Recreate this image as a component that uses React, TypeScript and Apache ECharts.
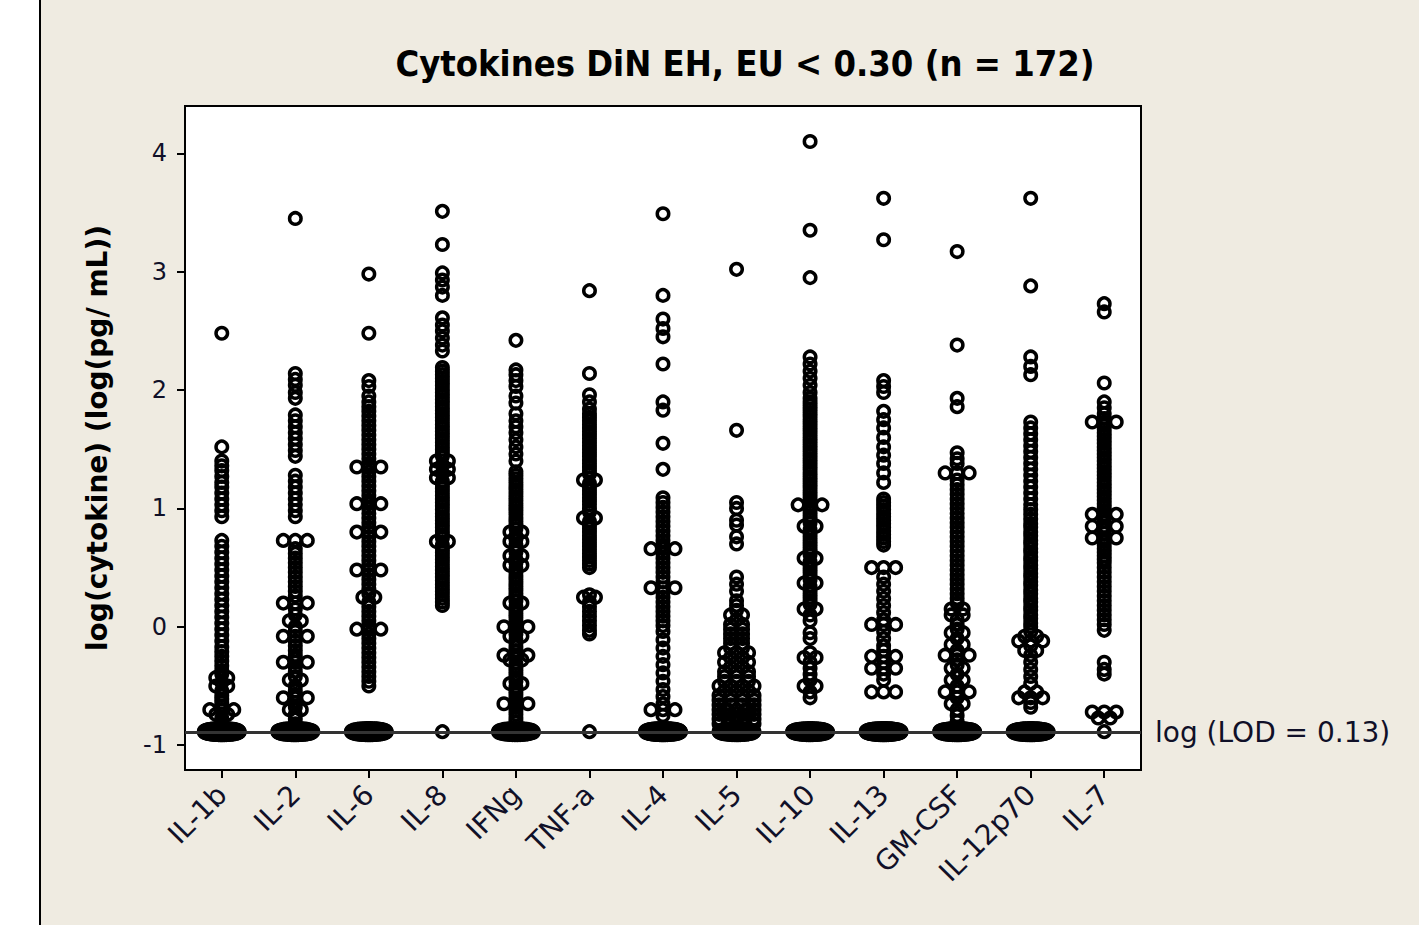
import React, { useEffect, useRef } from "react";
import * as echarts from "echarts";

const categories = ["IL-1b", "IL-2", "IL-6", "IL-8", "IFNg", "TNF-a", "IL-4", "IL-5", "IL-10", "IL-13", "GM-CSF", "IL-12p70", "IL-7"];

const il1b = [2.48, 1.52, 1.4, 1.36, 1.32, 1.27, 1.22, 1.18, 1.13, 1.08, 1.03, 0.98, 0.93,
  0.73, 0.68, 0.63, 0.58, 0.53, 0.48, 0.43, 0.38, 0.33, 0.28, 0.23, 0.18, 0.13, 0.08, 0.03, -0.02, -0.07, -0.12, -0.17, -0.21, -0.25, -0.29, -0.33, -0.37, -0.4,
  -0.43, -0.43, -0.47, -0.5, -0.5, -0.54, -0.58, -0.61, -0.64, -0.67, -0.7, -0.7, -0.7, -0.74, -0.74, -0.77, -0.8, -0.83];
const il2 = [3.45, 2.14, 2.09, 2.04, 1.98, 1.93, 1.79, 1.74, 1.69, 1.64, 1.59, 1.54, 1.49, 1.44,
  1.28, 1.23, 1.18, 1.13, 1.08, 1.03, 0.98, 0.93, 0.73, 0.73, 0.73, 0.66, 0.62, 0.58, 0.54, 0.5, 0.46, 0.42, 0.38, 0.34, 0.3, 0.26,
  0.2, 0.2, 0.2, 0.15, 0.1, 0.05, 0.05, 0.0, -0.04, -0.08, -0.08, -0.08, -0.12, -0.16, -0.2, -0.24, -0.27, -0.3, -0.3, -0.3, -0.34, -0.38, -0.42,
  -0.45, -0.45, -0.5, -0.54, -0.57, -0.6, -0.6, -0.6, -0.64, -0.68, -0.7, -0.7, -0.74, -0.78, -0.82];
const il6 = [2.98, 2.48, 2.08, 2.03, 1.95, 1.9, 1.86, 1.82, 1.78, 1.74, 1.7, 1.66, 1.62, 1.58, 1.54, 1.5, 1.46, 1.42, 1.38, 1.35, 1.35,
  1.35, 1.31, 1.27, 1.23, 1.19, 1.15, 1.11, 1.07, 1.04, 1.04, 1.04, 1.0, 0.96, 0.92, 0.88, 0.84, 0.8, 0.8, 0.8, 0.76, 0.72, 0.68, 0.64,
  0.6, 0.56, 0.52, 0.48, 0.48, 0.48, 0.44, 0.4, 0.36, 0.32, 0.28, 0.25, 0.25, 0.21, 0.17, 0.13, 0.09, 0.05, 0.01, -0.02, -0.02, -0.02,
  -0.06, -0.1, -0.14, -0.18, -0.22, -0.26, -0.3, -0.34, -0.38, -0.42, -0.46, -0.5];
const il8 = [3.51, 3.23, 2.99, 2.93, 2.87, 2.8, 2.61, 2.55, 2.5, 2.44, 2.38, 2.33,
  2.19, 2.16, 2.13, 2.1, 2.07, 2.04, 2.01, 1.98, 1.95, 1.92, 1.89, 1.86, 1.83, 1.8, 1.77, 1.74, 1.71, 1.68, 1.65, 1.62, 1.59, 1.56, 1.53,
  1.5, 1.47, 1.44, 1.4, 1.4, 1.37, 1.33, 1.33, 1.3, 1.26, 1.26, 1.23, 1.2, 1.17, 1.14, 1.11, 1.08, 1.05, 1.02, 0.99, 0.96, 0.93, 0.9,
  0.87, 0.84, 0.81, 0.78, 0.75, 0.72, 0.72, 0.69, 0.66, 0.63, 0.6, 0.57, 0.54, 0.51, 0.48, 0.45, 0.42, 0.39, 0.36, 0.33, 0.3, 0.27,
  0.24, 0.21, 0.18];
const ifng = [2.42, 2.17, 2.13, 2.08, 2.03, 1.95, 1.89, 1.8, 1.74, 1.69, 1.64, 1.58, 1.52, 1.46, 1.4, 1.31, 1.28, 1.25, 1.22, 1.19,
  1.16, 1.13, 1.1, 1.07, 1.04, 1.01, 0.98, 0.95, 0.92, 0.89, 0.86, 0.83, 0.8, 0.8, 0.77, 0.74, 0.72, 0.72, 0.69, 0.66, 0.63, 0.6, 0.6,
  0.57, 0.54, 0.52, 0.52, 0.49, 0.46, 0.43, 0.4, 0.37, 0.34, 0.31, 0.28, 0.25, 0.22, 0.2, 0.2, 0.17, 0.14, 0.11, 0.08, 0.05, 0.02, 0.0,
  0.0, 0.0, -0.03, -0.06, -0.08, -0.08, -0.11, -0.14, -0.17, -0.2, -0.24, -0.24, -0.24, -0.28, -0.28, -0.31, -0.34, -0.37, -0.4, -0.43,
  -0.46, -0.48, -0.48, -0.51, -0.54, -0.57, -0.6, -0.62, -0.65, -0.65, -0.65, -0.68, -0.71, -0.74, -0.77, -0.8];
const tnfa = [2.84, 2.14, 1.96, 1.9, 1.84, 1.8, 1.77, 1.74, 1.71, 1.68, 1.65, 1.62, 1.59, 1.56, 1.53, 1.5, 1.47, 1.44, 1.41, 1.38,
  1.35, 1.32, 1.29, 1.24, 1.24, 1.21, 1.18, 1.15, 1.12, 1.09, 1.06, 1.03, 1.0, 0.97, 0.92, 0.92, 0.89, 0.86, 0.83, 0.8, 0.77, 0.74,
  0.71, 0.68, 0.65, 0.62, 0.59, 0.56, 0.53, 0.5, 0.27, 0.25, 0.25, 0.21, 0.17, 0.13, 0.09, 0.05, 0.01, -0.03, -0.06];
const il4 = [3.49, 2.8, 2.6, 2.52, 2.45, 2.22, 1.9, 1.83, 1.55, 1.33, 1.09, 1.05, 1.01, 0.97, 0.93, 0.89, 0.85, 0.81, 0.77, 0.73,
  0.69, 0.66, 0.66, 0.66, 0.62, 0.58, 0.54, 0.5, 0.46, 0.42, 0.38, 0.33, 0.33, 0.33, 0.29, 0.25, 0.21, 0.17, 0.13, 0.09, 0.05, 0.01,
  -0.04, -0.11, -0.18, -0.25, -0.32, -0.39, -0.46, -0.53, -0.59, -0.65, -0.7, -0.7, -0.7, -0.75];
const il5 = [3.02, 1.66, 1.05, 1.0, 0.9, 0.86, 0.76, 0.7, 0.42, 0.36, 0.3, 0.22, 0.18, 0.14, 0.1, 0.1, 0.06, 0.02, 0.02, -0.02, -0.02,
  -0.06, -0.06, -0.1, -0.1, -0.14, -0.14, -0.18, -0.18, -0.22, -0.22, -0.22, -0.26, -0.26, -0.3, -0.3, -0.3, -0.34, -0.34, -0.38,
  -0.38, -0.38, -0.42, -0.42, -0.42, -0.46, -0.46, -0.46, -0.5, -0.5, -0.5, -0.5, -0.54, -0.54, -0.54, -0.58, -0.58, -0.58, -0.58,
  -0.62, -0.62, -0.62, -0.62, -0.66, -0.66, -0.66, -0.66, -0.7, -0.7, -0.7, -0.7, -0.7, -0.74, -0.74, -0.74, -0.74, -0.78, -0.78,
  -0.78, -0.78, -0.78, -0.82, -0.82, -0.82, -0.82];
const il10 = [4.1, 3.35, 2.95, 2.28, 2.22, 2.16, 2.1, 2.04, 1.98, 1.93, 1.9, 1.87, 1.84, 1.81, 1.78, 1.75, 1.72, 1.69, 1.66, 1.63,
  1.6, 1.57, 1.54, 1.51, 1.48, 1.45, 1.42, 1.39, 1.36, 1.33, 1.3, 1.27, 1.24, 1.21, 1.18, 1.15, 1.12, 1.09, 1.06, 1.03, 1.03, 1.03,
  1.0, 0.97, 0.94, 0.91, 0.88, 0.85, 0.85, 0.82, 0.79, 0.76, 0.73, 0.7, 0.67, 0.64, 0.61, 0.58, 0.58, 0.55, 0.52, 0.49, 0.46, 0.43,
  0.4, 0.37, 0.37, 0.34, 0.31, 0.28, 0.25, 0.22, 0.19, 0.15, 0.15, 0.1, 0.05, -0.05, -0.1, -0.22, -0.26, -0.26, -0.3, -0.35, -0.4,
  -0.45, -0.5, -0.5, -0.55, -0.6];
const il13 = [3.62, 3.27, 2.08, 2.03, 1.98, 1.82, 1.75, 1.68, 1.6, 1.52, 1.45, 1.38, 1.3, 1.22, 1.08, 1.05, 1.02, 0.99, 0.96, 0.93,
  0.9, 0.87, 0.84, 0.81, 0.78, 0.75, 0.72, 0.69, 0.5, 0.5, 0.5, 0.42, 0.36, 0.3, 0.24, 0.18, 0.12, 0.06, 0.02, 0.02, 0.02, -0.04, -0.1,
  -0.16, -0.2, -0.25, -0.25, -0.25, -0.3, -0.35, -0.35, -0.35, -0.4, -0.45, -0.55, -0.55, -0.55];
const gmcsf = [3.17, 2.38, 1.93, 1.86, 1.47, 1.42, 1.38, 1.3, 1.3, 1.3, 1.24, 1.2, 1.16, 1.12, 1.08, 1.04, 1.0, 0.96, 0.92, 0.88, 0.84,
  0.8, 0.76, 0.72, 0.68, 0.64, 0.6, 0.56, 0.52, 0.48, 0.44, 0.4, 0.36, 0.32, 0.28, 0.24, 0.2, 0.15, 0.15, 0.1, 0.1, 0.06, 0.02, -0.02,
  -0.05, -0.05, -0.1, -0.15, -0.15, -0.2, -0.24, -0.24, -0.24, -0.28, -0.32, -0.35, -0.35, -0.4, -0.45, -0.45, -0.5, -0.55, -0.55,
  -0.55, -0.6, -0.65, -0.65, -0.7, -0.75, -0.8];
const il12p70 = [3.62, 2.88, 2.28, 2.2, 2.13, 1.73, 1.68, 1.63, 1.58, 1.53, 1.48, 1.43, 1.38, 1.33, 1.28, 1.23, 1.18, 1.13, 1.08, 1.03,
  0.99, 0.95, 0.91, 0.87, 0.84, 0.8, 0.77, 0.73, 0.7, 0.66, 0.63, 0.59, 0.56, 0.52, 0.49, 0.45, 0.42, 0.38, 0.35, 0.31, 0.28, 0.24,
  0.21, 0.17, 0.14, 0.1, 0.07, 0.03, 0.0, -0.04, -0.08, -0.08, -0.12, -0.12, -0.12, -0.16, -0.2, -0.2, -0.24, -0.3, -0.36, -0.42,
  -0.48, -0.55, -0.55, -0.6, -0.6, -0.6, -0.64, -0.68];
const il7 = [2.73, 2.66, 2.06, 1.9, 1.85, 1.8, 1.76, 1.73, 1.73, 1.73, 1.7, 1.67, 1.64, 1.61, 1.58, 1.55, 1.52, 1.49, 1.46, 1.43,
  1.4, 1.37, 1.34, 1.31, 1.28, 1.25, 1.22, 1.19, 1.16, 1.13, 1.1, 1.07, 1.04, 1.01, 0.98, 0.95, 0.95, 0.95, 0.92, 0.89, 0.85, 0.85,
  0.85, 0.82, 0.79, 0.75, 0.75, 0.75, 0.72, 0.69, 0.66, 0.63, 0.6, 0.57, 0.54, 0.5, 0.46, 0.42, 0.38, 0.34, 0.3, 0.26, 0.22, 0.18,
  0.14, 0.1, 0.06, 0.02, -0.03, -0.3, -0.36, -0.4, -0.72, -0.72, -0.72, -0.77, -0.77];

// number of observations sitting at the limit of detection, per cytokine
const lodCounts = [116, 98, 94, 1, 69, 1, 116, 87, 82, 115, 102, 102, 1];
const yTicks = [-1, 0, 1, 2, 3, 4];
const LOD_VALUE = Math.log10(0.13);
const LOD_LABEL = "log (LOD = 0.13)";
const TITLE = "Cytokines DiN EH, EU < 0.30 (n = 172)";
const Y_NAME = "log(cytokine) (log(pg/ mL))";

const valuesByCategory = [il1b, il2, il6, il8, ifng, tnfa, il4, il5, il10, il13, gmcsf, il12p70, il7];

const FONT_C = "'DejaVu Sans Condensed', 'DejaVu Sans', sans-serif";
const FONT = "'DejaVu Sans', sans-serif";
const TEXT_COLOR = "#101028";
const TIE_GAP = 12;
const MAX_SPREAD = 35;

function buildPoints() {
  const out: any[] = [];
  valuesByCategory.forEach((vals, ci) => {
    const cat = categories[ci];
    const groups = new Map<number, number>();
    vals.forEach((v) => groups.set(v, (groups.get(v) || 0) + 1));
    groups.forEach((k, v) => {
      const w = Math.min(MAX_SPREAD, (k - 1) * TIE_GAP);
      for (let j = 0; j < k; j++) {
        const t = k > 1 ? j / (k - 1) : 0.5;
        out.push({ value: [cat, v], symbolOffset: [(t - 0.5) * w, 0] });
      }
    });
    const n = lodCounts[ci];
    const w = Math.min(MAX_SPREAD, (n - 1) * TIE_GAP);
    const pattern = [0, -3, 3, -1.5, 1.5];
    for (let i = 0; i < n; i++) {
      const t = n > 1 ? i / (n - 1) : 0.5;
      const env = Math.sqrt(Math.max(0, 1 - (2 * t - 1) ** 2));
      out.push({ value: [cat, LOD_VALUE], symbolOffset: [(t - 0.5) * w, pattern[i % 5] * env] });
    }
  });
  return out;
}

export default function App() {
  const ref = useRef<HTMLDivElement>(null);
  useEffect(() => {
    if (!ref.current) return;
    const chart = echarts.init(ref.current, null, { renderer: "svg", width: 1419, height: 925 });
    chart.setOption({
      animation: false,
      backgroundColor: "#EFEBE1",
      graphic: [
        { type: "rect", silent: true, shape: { x: 0, y: 0, width: 39, height: 925 }, style: { fill: "#ffffff" } },
        { type: "rect", silent: true, shape: { x: 39, y: 0, width: 2, height: 925 }, style: { fill: "#000000" } },
        {
          type: "text",
          silent: true,
          x: 745,
          y: 63,
          style: {
            text: TITLE,
            fontSize: 36,
            fontWeight: "bold",
            fontFamily: FONT_C,
            fill: "#000000",
            textAlign: "center",
            textVerticalAlign: "middle",
          },
        },
      ],
      grid: {
        left: 185,
        top: 106,
        width: 956,
        height: 664,
        show: true,
        backgroundColor: "#ffffff",
        borderColor: "#000000",
        borderWidth: 2,
        containLabel: false,
      },
      xAxis: {
        type: "category",
        data: categories,
        boundaryGap: true,
        axisLine: { show: true, onZero: false, lineStyle: { color: "#000", width: 2 } },
        axisTick: { show: true, alignWithLabel: true, length: 8, lineStyle: { color: "#000", width: 2 } },
        axisLabel: {
          rotate: 45,
          interval: 0,
          margin: 20,
          fontSize: 28,
          fontFamily: FONT,
          color: TEXT_COLOR,
        },
        splitLine: { show: false },
      },
      yAxis: {
        type: "value",
        min: -1.21,
        max: 4.4,
        name: Y_NAME,
        nameLocation: "middle",
        nameRotate: 90,
        nameGap: 74,
        nameTextStyle: { fontSize: 28, fontWeight: "bold", fontFamily: FONT, color: "#000" },
        axisLine: { show: true, lineStyle: { color: "#000", width: 2 } },
        axisTick: { show: true, length: 8, customValues: yTicks, lineStyle: { color: "#000", width: 2 } },
        axisLabel: { customValues: yTicks, margin: 18, fontSize: 24, fontFamily: FONT, color: TEXT_COLOR },
        splitLine: { show: false },
      },
      series: [
        {
          type: "scatter",
          progressive: 0,
          symbol: "circle",
          symbolSize: 11.5,
          itemStyle: { color: "rgba(0,0,0,0)", borderColor: "#000", borderWidth: 3.5, opacity: 1 },
          emphasis: { disabled: true },
          data: buildPoints(),
          markLine: {
            silent: true,
            symbol: ["none", "none"],
            lineStyle: { color: "#333", width: 3, type: "solid" },
            label: {
              show: true,
              position: "end",
              distance: 14,
              formatter: LOD_LABEL,
              fontSize: 28,
              fontFamily: FONT,
              color: TEXT_COLOR,
            },
            data: [{ yAxis: LOD_VALUE }],
          },
        },
      ],
    });
    return () => chart.dispose();
  }, []);
  return <div ref={ref} style={{ position: "absolute", left: 0, top: 0, width: 1419, height: 925 }} />;
}
